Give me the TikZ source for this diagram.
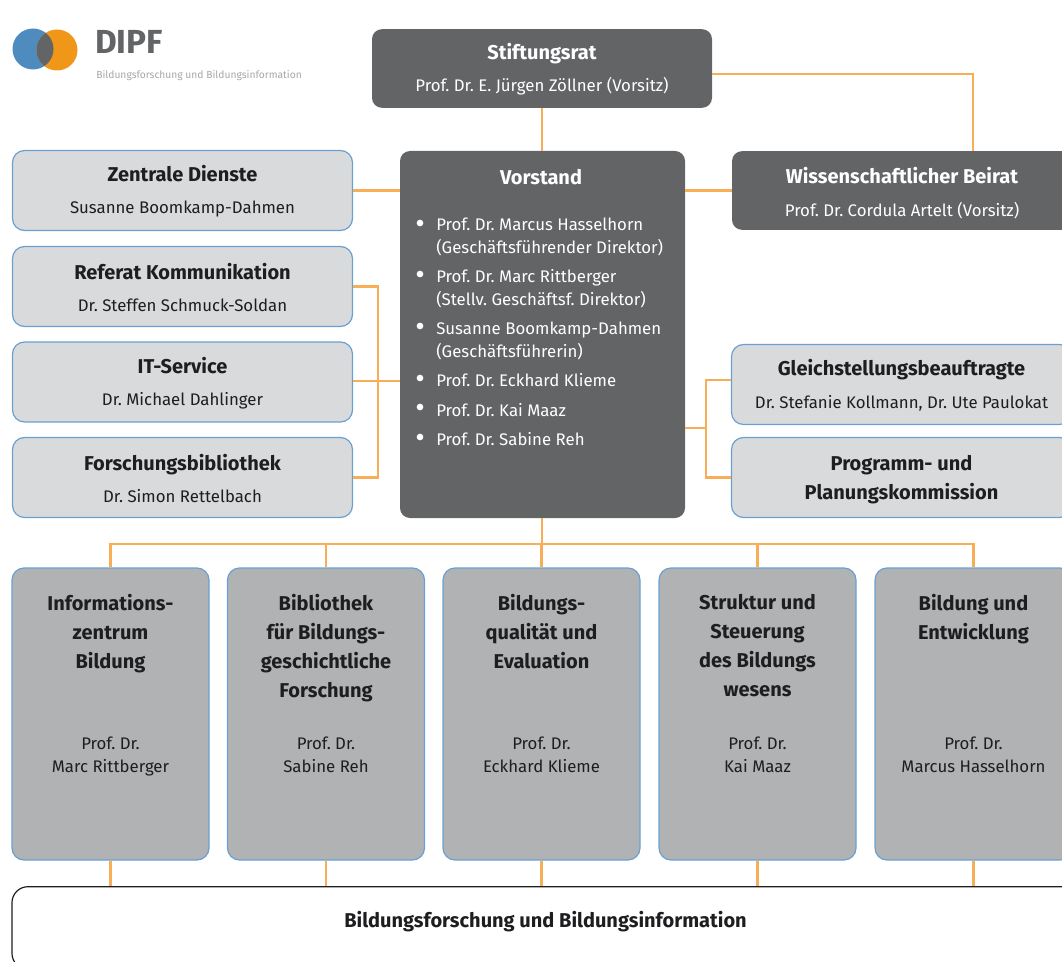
\documentclass[tikz,border=0pt]{standalone}
\usepackage{fontspec}
\setmainfont{Fira Sans}
\usetikzlibrary{calc}
\definecolor{linkorange}{RGB}{247,174,86}
\definecolor{boxblue}{RGB}{105,160,209}
\definecolor{darkbox}{RGB}{99,100,102}
\definecolor{lightbox}{RGB}{217,218,220}
\definecolor{midbox}{RGB}{177,178,180}
\definecolor{inktext}{RGB}{30,30,32}
\definecolor{logoblue}{RGB}{78,139,190}
\definecolor{logoorange}{RGB}{240,150,25}
\tikzset{dark/.style = {shape=rectangle,rounded corners=7.5pt,fill=darkbox,text=white,inner sep=0pt,align=center,font=\fontsize{12.6}{15}\selectfont\frenchspacing}}
\tikzset{light/.style = {shape=rectangle,rounded corners=9pt,draw=boxblue,line width=0.9pt,fill=lightbox,text=inktext,inner sep=0pt,align=center,font=\fontsize{12.6}{15}\selectfont\frenchspacing}}
\tikzset{unit/.style = {light,fill=midbox}}
\tikzset{boxtitle/.style = {text=inktext,font=\fontsize{15}{21.75}\selectfont\bfseries,align=center,inner sep=0pt}}
\tikzset{boxname/.style = {text=inktext,font=\fontsize{12.6}{17.25}\selectfont\frenchspacing,align=center,inner sep=0pt}}
\tikzset{item/.style = {text=white,font=\fontsize{12.6}{17.25}\selectfont\frenchspacing,align=left,anchor=north west,inner sep=0pt}}
\tikzset{dot/.style = {shape=circle,fill=white,minimum size=5pt,inner sep=0pt}}
\tikzset{link/.style = {draw=linkorange,line width=1.7pt}}
\newcommand{\head}[1]{\rule{0pt}{13.5pt}{\fontsize{15}{18}\selectfont\bfseries #1}}
\begin{document}
\begin{tikzpicture}[x=0.75pt,y=-0.75pt]
        \useasboundingbox (0,0) rectangle (1062,962);
        \clip (0,0) rectangle (1062,962);
        % logo
        \fill[logoblue] (33,49) circle (20.5);
        \fill[logoorange] (57,50) circle (20.5);
        \begin{scope}
            \clip (33,49) circle (20.5);
            \fill[darkbox] (57,50) circle (20.5);
        \end{scope}
        \node[text=darkbox,font=\fontsize{25}{27}\selectfont\bfseries,anchor=west,inner sep=0pt] (logoname) at (95,42) {DIPF};
        \node[text=gray!70,font=\fontsize{7.7}{9}\selectfont,anchor=west,inner sep=0pt] (logosub) at (96,76) {Bildungsforschung und Bildungsinformation};
        % top row
        \node[dark,minimum width=255pt,minimum height=59pt] (rat) at (542,68.5) {\head{Stiftungsrat}\\[9.25pt]Prof. Dr. E. Jürgen Zöllner (Vorsitz)};
        \node[dark,minimum width=255pt,minimum height=59pt] (beirat) at (902,190.5) {\rule{0pt}{16pt}\head{Wissenschaftlicher Beirat}\\[9.25pt]Prof. Dr. Cordula Artelt (Vorsitz)};
        \node[dark,minimum width=213.75pt,minimum height=275.25pt] (vorstand) at (542.5,334.5) {};
        \node[text=white,font=\fontsize{15}{18}\selectfont\bfseries,inner sep=0pt] (vtitle) at (541,177) {Vorstand};
        % list in the board
        \node[dot] (d1) at (420,223) {};
        \node[item] (i1) at (436,217.5) {Prof. Dr. Marcus Hasselhorn\\(Geschäftsführender Direktor)};
        \node[dot] (d2) at (420,274) {};
        \node[item] (i2) at (436,269.5) {Prof. Dr. Marc Rittberger\\(Stellv. Geschäftsf. Direktor)};
        \node[dot] (d3) at (420,326) {};
        \node[item] (i3) at (436,321.5) {Susanne Boomkamp-Dahmen\\(Geschäftsführerin)};
        \node[dot] (d4) at (420,378) {};
        \node[item] (i4) at (436,373.5) {Prof. Dr. Eckhard Klieme};
        \node[dot] (d5) at (420,407) {};
        \node[item] (i5) at (436,403) {Prof. Dr. Kai Maaz};
        \node[dot] (d6) at (420,437) {};
        \node[item] (i6) at (436,432.5) {Prof. Dr. Sabine Reh};
        % left column
        \node[light,minimum width=255pt,minimum height=60pt] (zentrale) at (182.5,190.5) {\head{Zentrale Dienste}\\[9.25pt]Susanne Boomkamp-Dahmen};
        \node[light,minimum width=255pt,minimum height=60pt] (referat) at (182.5,286.5) {\head{Referat Kommunikation}\\[9.25pt]Dr. Steffen Schmuck-Soldan};
        \node[light,minimum width=255pt,minimum height=60pt] (it) at (182.5,382) {\head{IT-Service}\\[9.25pt]Dr. Michael Dahlinger};
        \node[light,minimum width=255pt,minimum height=60pt] (bib) at (182.5,477.5) {\head{Forschungsbibliothek}\\[9.25pt]Dr. Simon Rettelbach};
        % right column
        \node[light,minimum width=255pt,minimum height=60pt] (gleich) at (901.5,384.5) {\head{Gleichstellungsbeauftragte}\\[9.25pt]Dr. Stefanie Kollmann, Dr. Ute Paulokat};
        \node[light,minimum width=255pt,minimum height=60pt,font=\fontsize{15}{21.75}\selectfont\bfseries] (kommission) at (901.5,477.5) {\rule{0pt}{14.5pt}Programm- und\\Planungskommission};
        % departments
        \node[unit,minimum width=147.75pt,minimum height=219pt] (u1) at (110.5,714) {};
        \node[boxtitle,anchor=north] (t1) at (110.5,594) {Informations-\\zentrum\\Bildung};
        \node[boxname,anchor=north] (n1) at (110.5,736.5) {Prof. Dr.\\Marc Rittberger};
        \node[unit,minimum width=147.75pt,minimum height=219pt] (u2) at (326,714) {};
        \node[boxtitle,anchor=north] (t2) at (326,594) {Bibliothek\\für Bildungs-\\geschichtliche\\Forschung};
        \node[boxname,anchor=north] (n2) at (326,736.5) {Prof. Dr.\\Sabine Reh};
        \node[unit,minimum width=147.75pt,minimum height=219pt] (u3) at (541.5,714) {};
        \node[boxtitle,anchor=north] (t3) at (541.5,594) {Bildungs-\\qualität und\\Evaluation};
        \node[boxname,anchor=north] (n3) at (541.5,736.5) {Prof. Dr.\\Eckhard Klieme};
        \node[unit,minimum width=147.75pt,minimum height=219pt] (u4) at (757.5,714) {};
        \node[boxtitle,anchor=north] (t4) at (757.5,594) {Struktur und\\Steuerung\\des Bildungs\\wesens};
        \node[boxname,anchor=north] (n4) at (757.5,736.5) {Prof. Dr.\\Kai Maaz};
        \node[unit,minimum width=147.75pt,minimum height=219pt] (u5) at (973.5,714) {};
        \node[boxtitle,anchor=north] (t5) at (973.5,594) {Bildung und\\Entwicklung};
        \node[boxname,anchor=north] (n5) at (973.5,736.5) {Prof. Dr.\\Marcus Hasselhorn};
        % base
        \node[shape=rectangle,rounded corners=12pt,draw=inktext,line width=0.9pt,minimum width=798pt,minimum height=62pt,inner sep=0pt] (basis) at (544,928) {};
        \node[boxtitle] (btext) at (545.5,922) {Bildungsforschung und Bildungsinformation};
        % links
        \coordinate (ratout) at (rat.east |- 0,74);
        \coordinate (ratcorner) at (973,74);
        \draw[link] (ratout) -- (ratcorner) -- (973,0 |- beirat.north);
        \draw[link] (rat.south -| 542,0) -- (vorstand.north -| 542,0);
        \draw[link] (zentrale.east) -- (zentrale.east -| vorstand.west);
        \draw[link] (vorstand.east |- beirat.west) -- (beirat.west);
        \coordinate (lbar) at (378,381);
        \draw[link] (referat.east) -| (lbar) |- (bib.east);
        \draw[link] (it.east |- lbar) -- (lbar -| vorstand.west);
        \coordinate (rbar) at (706,428);
        \draw[link] (vorstand.east |- rbar) -- (rbar);
        \draw[link] (gleich.west |- 0,380) -| (rbar) |- (kommission.west);
        \coordinate (trunk) at (542,544);
        \draw[link] (vorstand.south -| trunk) -- (trunk);
        \draw[link] (u1.north) -- (u1.north |- trunk) -- (u5.north |- trunk) -- (u5.north);
        \draw[link] (u2.north) -- (u2.north |- trunk);
        \draw[link] (u3.north) -- (u3.north |- trunk);
        \draw[link] (u4.north) -- (u4.north |- trunk);
        \draw[link] (u1.south) -- (u1.south |- basis.north);
        \draw[link] (u2.south) -- (u2.south |- basis.north);
        \draw[link] (u3.south) -- (u3.south |- basis.north);
        \draw[link] (u4.south) -- (u4.south |- basis.north);
        \draw[link] (u5.south) -- (u5.south |- basis.north);
    \end{tikzpicture}
\end{document}
